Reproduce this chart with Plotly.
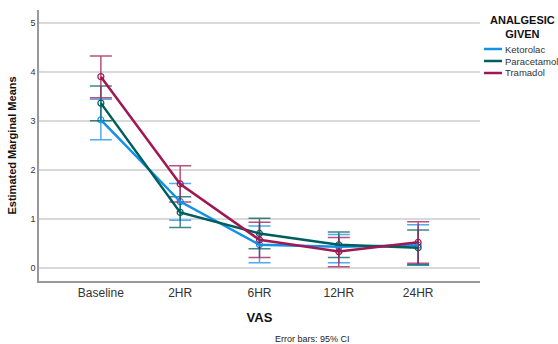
import plotly.graph_objects as go

# Estimated marginal means of VAS score by analgesic group, with 95% CI
timepoints = ["Baseline", "2HR", "6HR", "12HR", "24HR"]
groups = ["Ketorolac", "Paracetamol", "Tramadol"]

ketorolac_mean = [3.03, 1.36, 0.48, 0.44, 0.47]
ketorolac_lo = [2.62, 0.98, 0.11, 0.11, 0.06]
ketorolac_hi = [3.45, 1.73, 0.86, 0.69, 0.89]

paracetamol_mean = [3.37, 1.14, 0.71, 0.48, 0.42]
paracetamol_lo = [3.01, 0.83, 0.40, 0.22, 0.07]
paracetamol_hi = [3.72, 1.46, 1.02, 0.74, 0.78]

tramadol_mean = [3.91, 1.72, 0.58, 0.34, 0.53]
tramadol_lo = [3.48, 1.35, 0.22, 0.03, 0.10]
tramadol_hi = [4.33, 2.09, 0.94, 0.63, 0.95]

colors = ["#1192e8", "#005d5d", "#9f1853"]
bar_colors = ["rgba(17,146,232,0.75)", "rgba(0,93,93,0.75)", "rgba(159,24,83,0.75)"]

series = [
    (ketorolac_mean, ketorolac_lo, ketorolac_hi),
    (paracetamol_mean, paracetamol_lo, paracetamol_hi),
    (tramadol_mean, tramadol_lo, tramadol_hi),
]

fig = go.Figure()

# confidence interval bars with open-circle mean markers
for (mean, lo, hi), c, bc in zip(series, colors, bar_colors):
    fig.add_trace(go.Scatter(
        x=timepoints, y=mean, mode="markers",
        marker=dict(symbol="circle-open", size=6, color=c, line=dict(width=1.2)),
        error_y=dict(type="data", symmetric=False,
                     array=[h - m for h, m in zip(hi, mean)],
                     arrayminus=[m - l for m, l in zip(mean, lo)],
                     color=bc, thickness=1.5, width=11),
        showlegend=False, hoverinfo="skip",
    ))

# mean profiles
for name, (mean, lo, hi), c in zip(groups, series, colors):
    fig.add_trace(go.Scatter(
        x=timepoints, y=mean, mode="lines", name=name,
        line=dict(color=c, width=2.5), showlegend=False,
    ))

# compact legend block at the right of the plot
legend_shapes = []
legend_notes = [dict(
    text="<b>ANALGESIC<br>GIVEN</b>", xref="paper", yref="paper",
    x=1.097, y=0.992, xanchor="center", yanchor="top", align="center",
    showarrow=False, font=dict(size=11, color="#111111"),
)]
plot_top, plot_h = 10, 271
for i, (name, c) in enumerate(zip(groups, colors)):
    ypix = 49 + 12 * i
    yp = 1 - (ypix - plot_top) / plot_h
    legend_shapes.append(dict(
        type="line", xref="paper", yref="paper",
        x0=(484 - 39) / 441, x1=(502 - 39) / 441, y0=yp, y1=yp,
        line=dict(color=c, width=2.5),
    ))
    legend_notes.append(dict(
        text=name, xref="paper", yref="paper",
        x=(503 - 39) / 441, y=yp, xanchor="left", yanchor="middle",
        showarrow=False, font=dict(size=9.5, color="#333333"),
    ))

fig.update_layout(
    width=558, height=344,
    margin=dict(l=39, r=78, t=10, b=63, autoexpand=False),
    paper_bgcolor="white", plot_bgcolor="white",
    font=dict(family="Liberation Sans, Arial, sans-serif", color="#222222"),
    showlegend=False,
    xaxis=dict(
        type="category", range=[-0.78, 4.78],
        showline=True, linecolor="#999999", linewidth=1.5,
        showgrid=False, ticks="", tickfont=dict(size=12, color="#333333"),
        title=dict(text="<b>VAS</b>", font=dict(size=13, color="#111111"), standoff=14),
    ),
    yaxis=dict(
        range=[-0.26, 5.27], tickvals=[0, 1, 2, 3, 4, 5],
        showline=True, linecolor="#999999", linewidth=1.5,
        showgrid=True, gridcolor="#d9d9d9", gridwidth=1.5,
        zeroline=False, ticks="", tickfont=dict(size=9, color="#333333"),
        title=dict(text="<b>Estimated Marginal Means</b>", font=dict(size=11, color="#111111"), standoff=12),
    ),
    shapes=legend_shapes,
    annotations=legend_notes + [dict(
        text="Error bars: 95% CI", xref="paper", yref="paper",
        x=0.62, y=-0.215, xanchor="center", yanchor="middle",
        showarrow=False, font=dict(size=9, color="#222222"),
    )],
)

fig.write_html("out.html")
